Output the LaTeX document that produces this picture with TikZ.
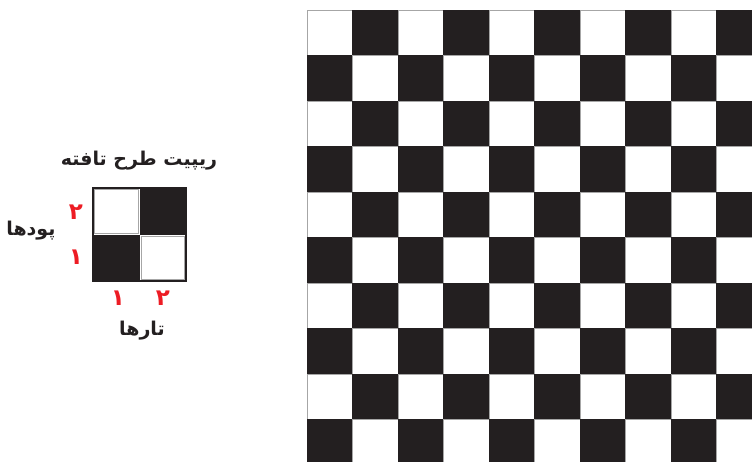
\documentclass[tikz,border=0pt]{standalone}
\usepackage{fontspec}
\TeXXeTstate=1
\newfontfamily\arabicfont[Script=Arabic]{DejaVu Sans}
\definecolor{ink}{HTML}{231F20}
\definecolor{numred}{HTML}{ED1C24}
\begin{document}
\begin{tikzpicture}[x=1pt,y=-1pt,
  lbl/.style={font=\arabicfont\bfseries\fontsize{19}{22}\selectfont, text=ink, inner sep=0pt},
  num/.style={font=\arabicfont\bfseries\fontsize{23}{26}\selectfont, text=numred, inner sep=0pt},
  whitecell/.style={fill=white, draw=gray!70, line width=0.8pt},
  blackcell/.style={fill=ink, draw=ink, line width=0.8pt}]
\useasboundingbox (0,0) rectangle (752,461);
\fill[white] (0,0) rectangle (752,461);
% large fabric grid
\begin{scope}
\clip (0,0) rectangle (752,461);
\foreach \i in {0,...,9} {
  \foreach \j in {0,...,9} {
    \pgfmathtruncatemacro\cellpar{mod(\i+\j,2)}
    \ifnum\cellpar=0
      \path[whitecell] (307+45.5*\j,10+45.5*\i) rectangle ++(45.5,45.5);
    \else
      \path[blackcell] (307+45.5*\j,10+45.5*\i) rectangle ++(45.5,45.5);
    \fi
  }
}
\end{scope}
% repeat square
\path[fill=white] (93,188) rectangle (139.5,234.5);
\path[fill=ink] (139.5,188) rectangle (186,234.5);
\path[fill=ink] (93,234.5) rectangle (139.5,281);
\path[fill=white] (139.5,234.5) rectangle (186,281);
\draw[ink, line width=1.5pt] (93,188) rectangle (186,281);
\draw[gray!70, line width=0.8pt] (141,236) rectangle (184.5,279.5);
\draw[gray!70, line width=0.8pt] (94.5,189.5) rectangle (138,233);
% labels
\node[lbl] (title) at (139,161) {\beginR ریپیت طرح تافته\endR};
\node[lbl] (weft) at (31,231) {\beginR پودها\endR};
\node[lbl] (warp) at (142,331) {\beginR تارها\endR};
\node[num] (w2) at (76,212) {۲};
\node[num] (w1) at (76,257) {۱};
\node[num] (t1) at (118,298) {۱};
\node[num] (t2) at (163,298) {۲};
\end{tikzpicture}
\end{document}
